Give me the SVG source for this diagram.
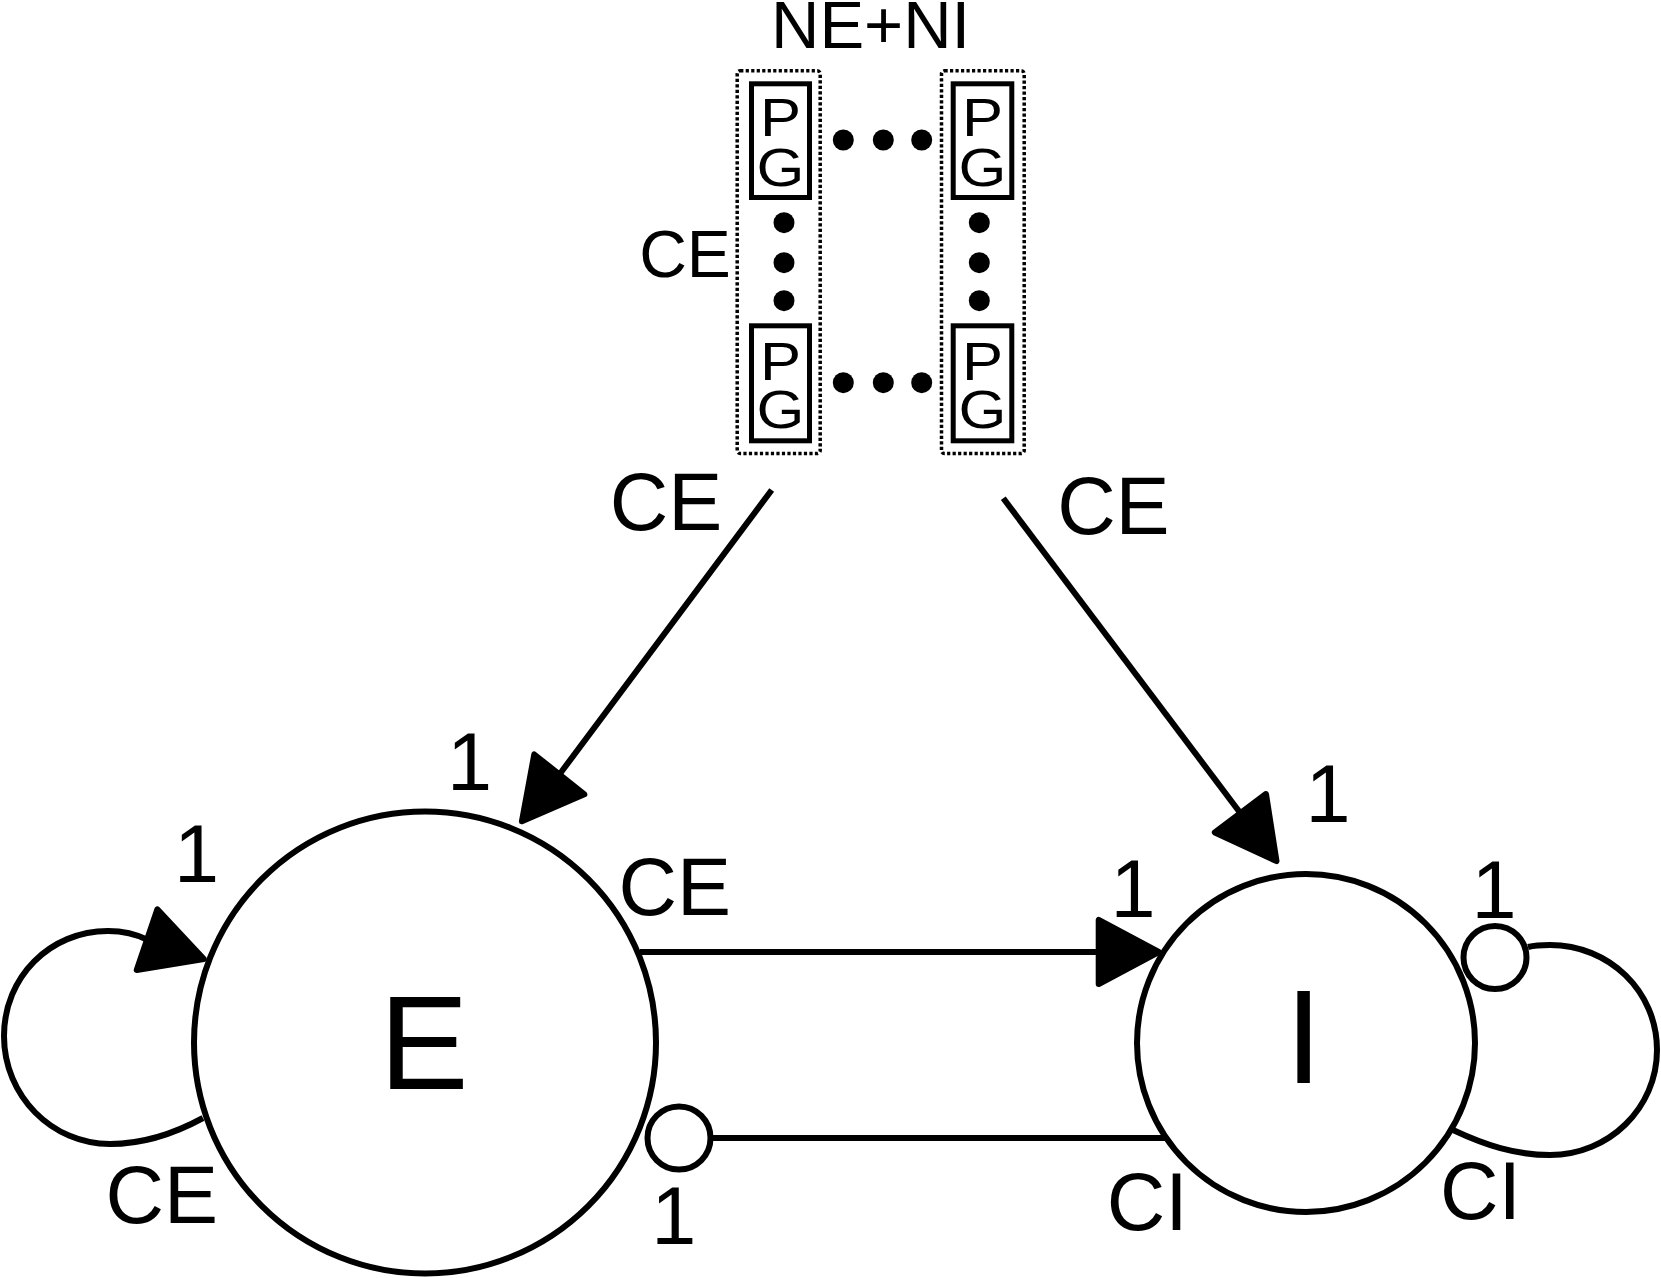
<svg xmlns="http://www.w3.org/2000/svg" width="1661" height="1278" viewBox="0 0 1661 1278">
<style>
  .t{font-family:"Liberation Sans",Arial,sans-serif;fill:#000;}
  .lbl{font-size:81px;text-anchor:middle;}
  .big{font-size:134px;text-anchor:middle;}
  .pg{font-size:54px;text-anchor:middle;}
  .node{fill:#fff;stroke:#000;stroke-width:6;}
  .edge{fill:none;stroke:#000;stroke-width:6;}
  .inh{fill:#fff;stroke:#000;stroke-width:6;}
  .dotbox{fill:none;stroke:#000;stroke-width:3.5;stroke-dasharray:3.2 2.3;}
  .unit{fill:none;stroke:#000;stroke-width:5;}
  .dot{fill:#000;}
</style>
<defs>
  <marker id="arr" viewBox="-72 -40 80 80" refX="-6" refY="0" markerWidth="80" markerHeight="80" markerUnits="userSpaceOnUse" orient="auto">
    <path d="M-3,0 L-63,-32 L-63,32 Z" fill="#000" stroke="#000" stroke-width="6" stroke-linejoin="round"/>
  </marker>
</defs>

<g id="connectors">
  <path id="pop-to-E" class="edge" d="M771.7,490 L562,771 L523.8,819" marker-end="url(#arr)"/>
  <path id="pop-to-I" class="edge" d="M1003.3,498.3 L1274.7,858.7" marker-end="url(#arr)"/>
  <path id="E-to-I" class="edge" d="M640,952 L1155.7,952" marker-end="url(#arr)"/>
  <path id="E-to-E" class="edge" d="M203,1118 C170,1136 140,1144 110,1144 C52,1144 4,1096 4,1036 C4,977 50,931 108,931 C122,931 136,934 148,940 L201,958" marker-end="url(#arr)"/>
  <path id="I-to-E" class="edge" d="M713,1138 L1166,1138"/>
  <path id="I-to-I" class="edge" d="M1453,1130 C1485,1145 1515,1155 1550,1155 C1609,1155 1657,1108 1657,1050 C1657,991 1609,945 1550,945 C1543,945 1536,945 1528,947"/>
</g>

<g id="node-E">
  <circle class="node" cx="425" cy="1042.5" r="231"/>
  <text class="t big" x="424" y="1089">E</text>
</g>

<g id="node-I">
  <circle class="node" cx="1306" cy="1043" r="169"/>
  <text class="t big" x="1303.7" y="1083">I</text>
</g>

<g id="inhibitory-ends">
  <circle class="inh" cx="679" cy="1138" r="31.5"/>
  <circle class="inh" cx="1495" cy="957.5" r="31.5"/>
</g>

<g id="node-population">
  <text class="t" x="771" y="48" font-size="67">NE+NI</text>
  <rect class="dotbox" x="737.2" y="70.8" width="83" height="382.7" rx="3"/>
  <rect class="dotbox" x="941.5" y="70.8" width="82.7" height="382.7" rx="3"/>
  <g id="unit-1-1">
    <rect class="unit" x="751.5" y="83.8" width="58" height="113.7"/>
    <g transform="translate(780.5 0) scale(1.14 1)">
      <text class="t pg" x="0" y="136.5">P</text>
      <text class="t pg" x="0" y="186">G</text>
    </g>
  </g>
  <g id="unit-n-1">
    <rect class="unit" x="751.5" y="325.8" width="58" height="115"/>
    <g transform="translate(780.5 0) scale(1.14 1)">
      <text class="t pg" x="0" y="380">P</text>
      <text class="t pg" x="0" y="428">G</text>
    </g>
  </g>
  <g id="unit-1-m">
    <rect class="unit" x="953.2" y="83.8" width="58.6" height="113.7"/>
    <g transform="translate(982.5 0) scale(1.14 1)">
      <text class="t pg" x="0" y="136.5">P</text>
      <text class="t pg" x="0" y="186">G</text>
    </g>
  </g>
  <g id="unit-n-m">
    <rect class="unit" x="953.2" y="325.8" width="58.6" height="115"/>
    <g transform="translate(982.5 0) scale(1.14 1)">
      <text class="t pg" x="0" y="380">P</text>
      <text class="t pg" x="0" y="428">G</text>
    </g>
  </g>
  <g id="ellipses">
    <circle class="dot" cx="843.3" cy="140" r="10.5"/>
    <circle class="dot" cx="883.3" cy="140" r="10.5"/>
    <circle class="dot" cx="921.7" cy="140" r="10.5"/>
    <circle class="dot" cx="843.3" cy="382.7" r="10.5"/>
    <circle class="dot" cx="883.3" cy="382.7" r="10.5"/>
    <circle class="dot" cx="921.7" cy="382.7" r="10.5"/>
    <circle class="dot" cx="784" cy="222.7" r="10.5"/>
    <circle class="dot" cx="784" cy="262.7" r="10.5"/>
    <circle class="dot" cx="784" cy="300.7" r="10.5"/>
    <circle class="dot" cx="979.3" cy="222.7" r="10.5"/>
    <circle class="dot" cx="979.3" cy="262.7" r="10.5"/>
    <circle class="dot" cx="979.3" cy="300.7" r="10.5"/>
  </g>
  <text class="t" x="685" y="276.7" font-size="66" text-anchor="middle">CE</text>
</g>

<g id="labels">
  <text class="t lbl" x="666" y="530">CE</text>
  <text class="t lbl" x="1113.4" y="534">CE</text>
  <text class="t lbl" x="469.5" y="790">1</text>
  <text class="t lbl" x="196.5" y="881.7">1</text>
  <text class="t lbl" x="674.7" y="915">CE</text>
  <text class="t lbl" x="161.7" y="1223.3">CE</text>
  <text class="t lbl" x="673.8" y="1244.3">1</text>
  <text class="t lbl" x="1133" y="917.4">1</text>
  <text class="t lbl" x="1328" y="822.4">1</text>
  <text class="t lbl" x="1494" y="918.4">1</text>
  <text class="t lbl" x="1147.2" y="1230">CI</text>
  <text class="t lbl" x="1480.5" y="1219.3">CI</text>
</g>
</svg>
